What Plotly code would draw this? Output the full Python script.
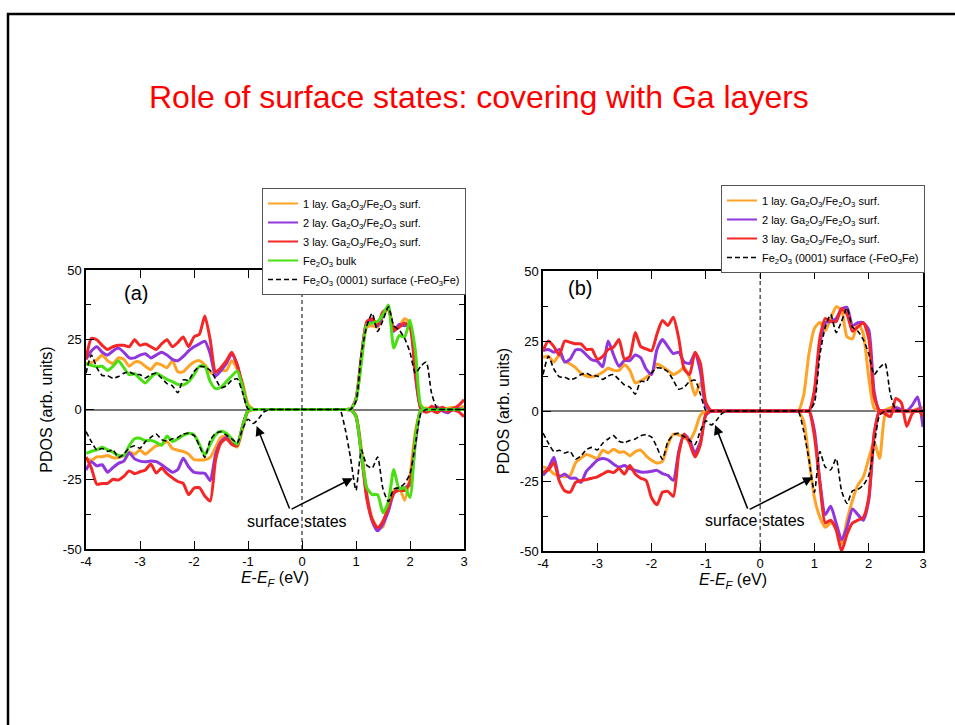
import plotly.graph_objects as go

# Energy grid (eV relative to E_F), 0.1 eV spacing from -4 to 3
E = [round(-4 + 0.1 * i, 1) for i in range(71)]

# ---------------- Panel (a) ----------------
A_ORANGE_UP = [16.5, 16.8, 17.7, 19.5, 17.5, 16.5, 18.5, 18.0, 15.5, 17.0, 17.0, 15.5, 14.3, 16.5, 16.0, 15.0,
               17.5, 13.5, 13.5, 15.5, 17.0, 17.5, 16.0, 13.5, 12.5, 14.0, 14.0, 17.5, 14.5, 9.5, 2.0,
               0, 0, 0, 0, 0, 0, 0, 0, 0, 0, 0, 0, 0, 0, 0, 0, 0, 0, 0,
               3.5, 18.0, 29.5, 30.0, 29.5, 33.5, 36.0, 29.0, 30.0, 32.5, 31.0, 16.0, 0.5, 0.5, 0.3, 1.0, 0.2,
               0.5, 0.8, 0.3, 1.2]
A_ORANGE_DN = [-17.5, -18.2, -17.0, -16.9, -16.5, -17.3, -17.2, -16.5, -15.2, -16.0, -14.5, -16.0, -14.5, -13.0,
               -12.5, -11.5, -14.0, -14.6, -15.0, -16.0, -18.0, -18.1, -18.0, -17.2, -13.5, -10.0, -9.5, -12.0,
               -13.5, -7.0, -0.8,
               0, 0, 0, 0, 0, 0, 0, 0, 0, 0, 0, 0, 0, 0, 0, 0, 0, 0, 0,
               -2.0, -14.0, -30.0, -39.0, -42.5, -42.0, -34.0, -29.0, -28.0, -32.5, -24.0, -8.0, -0.5,
               0, 0, 0, 0, 0, 0, 0, 0]
A_PURPLE_UP = [18.0, 21.0, 22.5, 20.5, 19.5, 21.0, 22.0, 20.5, 18.5, 18.5, 19.5, 20.0, 18.5, 19.5, 20.5, 19.5,
               18.0, 17.5, 19.0, 21.0, 22.5, 23.5, 24.5, 20.0, 12.0, 14.0, 16.5, 20.0, 16.0, 8.0, 0.6,
               0, 0, 0, 0, 0, 0, 0, 0, 0, 0, 0, 0, 0, 0, 0, 0, 0, 0, 0,
               3.5, 18.5, 31.0, 32.0, 30.0, 34.0, 36.5, 28.0, 30.5, 30.0, 30.5, 12.0, 0.5, -0.3, 0.5, 0.8,
               -0.5, -1.2, 0.2, 0.3, 0]
A_PURPLE_DN = [-21.7, -18.7, -20.2, -19.8, -22.5, -20.8, -19.3, -18.5, -15.5, -17.7, -18.5, -18.7, -18.5, -18.7,
               -19.8, -21.2, -22.5, -21.5, -17.5, -20.5, -22.5, -22.8, -22.9, -25.5, -16.0, -11.5, -10.0, -12.5,
               -12.5, -6.0, -0.4,
               0, 0, 0, 0, 0, 0, 0, 0, 0, 0, 0, 0, 0, 0, 0, 0, 0, 0, 0,
               -2.5, -16.0, -31.0, -40.0, -43.5, -41.0, -36.5, -30.0, -28.5, -28.0, -27.0, -12.0, -0.5,
               0, 0, 0, 0, 0, 0, 0, 0]
A_RED_UP = [18.0, 25.5, 25.0, 23.0, 21.5, 22.5, 23.0, 23.0, 22.5, 25.0, 23.0, 23.5, 22.5, 21.5, 23.5, 25.0,
            22.5, 24.0, 26.0, 22.5, 26.0, 27.0, 33.5, 25.0, 13.5, 15.0, 17.5, 20.5, 16.0, 8.5, 0.6,
            0, 0, 0, 0, 0, 0, 0, 0, 0, 0, 0, 0, 0, 0, 0, 0, 0, 0, 0,
            4.0, 19.0, 31.5, 32.5, 30.5, 35.0, 36.0, 28.5, 29.5, 31.0, 29.5, 13.0, 0.5, -0.8, 1.2, -0.2,
            0.8, -0.3, 0.3, 1.5, 3.5]
A_RED_DN = [-17.0, -21.0, -26.8, -26.5, -26.5, -25.0, -25.3, -24.0, -22.0, -23.0, -22.3, -21.7, -19.5, -22.8,
            -21.0, -23.0, -24.5, -25.8, -26.5, -30.5, -28.2, -28.0, -31.0, -32.8, -18.0, -12.0, -10.5, -12.5,
            -13.0, -6.0, -0.4,
            0, 0, 0, 0, 0, 0, 0, 0, 0, 0, 0, 0, 0, 0, 0, 0, 0, 0, 0,
            -2.5, -16.0, -32.0, -39.5, -42.4, -40.0, -35.0, -30.0, -29.0, -29.0, -26.0, -10.0, -0.3, -1.0,
            -0.3, -1.2, 0, -0.6, -0.2, -0.8, -2.6]
A_GREEN_UP = [16.5, 15.8, 15.3, 15.5, 14.0, 15.5, 17.5, 15.0, 12.5, 12.8, 11.0, 9.5, 11.5, 13.0, 12.0, 10.8,
              10.0, 9.0, 8.8, 10.0, 12.5, 15.5, 15.5, 10.0, 7.5, 8.0, 10.0, 12.0, 13.8, 8.0, 1.0,
              0, 0, 0, 0, 0, 0, 0, 0, 0, 0, 0, 0, 0, 0, 0, 0, 0, 0, 0,
              3.5, 17.0, 30.5, 31.0, 31.5, 34.0, 37.5, 22.0, 26.5, 26.0, 32.0, 21.0, 1.5,
              0, 0, 0, 0, 0, 0, 0, 0]
A_GREEN_DN = [-15.7, -15.0, -14.5, -13.5, -14.5, -15.3, -16.5, -16.5, -13.0, -10.5, -10.3, -11.2, -11.0, -11.8,
              -12.8, -9.5, -11.5, -10.5, -9.3, -8.5, -9.0, -12.5, -16.3, -12.5, -9.0, -7.8, -8.5, -10.5, -12.5,
              -6.0, -0.4,
              0, 0, 0, 0, 0, 0, 0, 0, 0, 0, 0, 0, 0, 0, 0, 0, 0, 0, 0,
              -2.5, -16.0, -28.0, -30.5, -30.5, -37.0, -33.0, -21.5, -28.5, -28.0, -31.5, -10.0, -0.3,
              0, 0, 0, 0, 0, 0, 0, 0]
# bare Fe2O3 (0001) surface, shared by both panels
SURF_UP = [13.0, 19.5, 15.0, 12.2, 12.1, 11.2, 11.8, 13.0, 13.5, 12.6, 12.5, 11.3, 12.5, 13.0, 11.2, 9.3,
           8.5, 6.0, 10.6, 10.5, 13.6, 15.4, 15.2, 14.0, 11.0, 7.8, 8.5, 10.5, 11.0, 6.0, 0.2,
           0, 0, 0, 0, 0, 0, 0, 0, 0, 0, 0, 0, 0, 0, 0, 0, 0, 0, 0,
           3.0, 20.0, 30.0, 34.5, 28.0, 32.0, 36.8, 30.0, 28.5, 25.5, 20.5, 13.0, 15.5, 17.0, 5.8, 0.5,
           0, 0, 0, 0, 0]
SURF_DN = [-7.9, -11.5, -14.5, -14.0, -15.0, -14.5, -17.2, -16.0, -13.8, -13.0, -13.9, -11.5, -10.0, -8.8,
           -10.8, -11.3, -10.5, -10.0, -8.8, -8.5, -9.3, -13.0, -17.2, -11.0, -8.5, -8.0, -9.2, -10.5, -12.0,
           -7.0, -3.5,
           -5.0, -3.2, -0.8, 0, 0, 0, 0, 0, 0, 0, 0, 0, 0, 0, 0, 0, 0, -7.0, -17.5,
           -29.0, -14.5, -20.0, -21.0, -17.0, -28.5, -33.0, -28.5, -28.0, -26.5, -23.0, -12.5, -1.5,
           0, 0, 0, 0, 0, 0, 0, 0]

# ---------------- Panel (b) ----------------
B_ORANGE_UP = [19.2, 19.5, 17.5, 20.0, 17.8, 16.8, 15.5, 13.5, 12.5, 12.2, 12.8, 13.8, 15.3, 14.5, 14.5, 16.5,
               14.5, 10.0, 10.8, 12.0, 13.5, 16.8, 15.8, 14.5, 13.0, 14.0, 15.5, 12.0, 5.6, 10.0, 2.5,
               0.2, 0, 0, 0, 0, 0, 0, 0, 0, 0, 0, 0, 0, 0, 0, 0, 0, 5.5, 20.5,
               29.5, 31.7, 28.7, 33.0, 37.2, 36.0, 26.5, 25.8, 31.5, 27.5, 12.0, 1.0, 0, 0.3, 1.2, 1.4,
               0.2, -0.3, 0, 0.8, 1.4]
B_ORANGE_DN = [-20.0, -20.6, -22.5, -23.0, -23.5, -23.0, -18.5, -16.8, -15.5, -16.2, -17.0, -14.0, -15.0, -13.7,
               -14.7, -14.6, -16.0, -14.5, -14.0, -16.0, -17.6, -18.6, -18.0, -12.0, -8.3, -8.5, -9.5, -10.5,
               -7.0, -1.5, 0,
               0, 0, 0, 0, 0, 0, 0, 0, 0, 0, 0, 0, 0, 0, 0, 0, 0, -3.5, -17.0,
               -31.0, -37.9, -41.5, -40.0, -41.0, -47.5, -39.0, -32.0, -26.5, -23.6, -17.0, -11.0, -17.0, -1.5,
               0, 0, 0, 0, 0, 0, 0]
B_PURPLE_UP = [21.6, 22.0, 21.0, 22.0, 17.5, 18.5, 21.8, 21.8, 20.0, 18.3, 17.8, 15.8, 25.0, 20.0, 16.0, 18.0,
               18.0, 20.0, 19.0, 15.0, 13.0, 22.0, 25.5, 23.0, 20.5, 21.0, 17.5, 17.0, 20.5, 14.0, 1.8,
               0, 0, 0, 0, 0, 0, 0, 0, 0, 0, 0, 0, 0, 0, 0, 0, 0, 0, 0,
               6.5, 24.0, 31.5, 32.0, 33.0, 36.5, 37.0, 30.5, 31.5, 31.5, 29.0, 7.0, 0, 0, 0, 1.2, 0.5, 0,
               2.0, 5.0, -5.7]
B_PURPLE_DN = [-23.0, -20.5, -16.5, -23.5, -22.5, -24.0, -24.0, -25.5, -21.5, -19.5, -17.6, -17.0, -17.5, -19.0,
               -20.0, -19.5, -20.6, -21.2, -21.8, -21.8, -21.5, -21.2, -22.4, -23.0, -24.8, -14.5, -8.5, -10.5,
               -15.0, -11.0, -1.5,
               0, 0, 0, 0, 0, 0, 0, 0, 0, 0, 0, 0, 0, 0, 0, 0, 0, 0, 0,
               -7.0, -25.0, -37.0, -34.0, -40.0, -46.0, -41.5, -35.0, -37.0, -39.0, -32.0, -9.0, 0,
               0, 0, 0, 0, 0, 0, 0, 0]
B_RED_UP = [21.6, 25.0, 23.0, 20.0, 25.0, 24.5, 24.0, 24.0, 22.0, 22.0, 18.5, 19.5, 22.0, 22.8, 25.5, 18.5,
            19.5, 28.0, 23.0, 22.2, 21.5, 27.5, 32.3, 30.5, 33.5, 26.0, 15.0, 13.0, 21.0, 17.0, 3.0,
            0, 0, 0, 0, 0, 0, 0, 0, 0, 0, 0, 0, 0, 0, 0, 0, 0, 0, 0,
            7.5, 26.0, 33.0, 32.0, 32.0, 36.5, 34.6, 28.5, 30.0, 31.5, 26.0, 5.0, 0, -1.0, -2.0, 4.5, 3.0,
            -5.5, -1.0, 0.5, -2.0]
B_RED_DN = [-21.8, -21.0, -18.5, -25.0, -28.5, -29.0, -25.5, -24.8, -24.5, -24.0, -23.5, -22.5, -21.5, -22.0,
            -20.5, -22.5, -19.5, -22.5, -24.0, -24.8, -31.0, -33.5, -29.0, -28.7, -30.5, -15.5, -8.2, -11.5,
            -16.4, -12.0, -1.0,
            0, 0, 0, 0, 0, 0, 0, 0, 0, 0, 0, 0, 0, 0, 0, 0, 0, 0, 0,
            -9.0, -26.0, -40.0, -39.0, -42.5, -50.0, -44.0, -40.0, -39.0, -38.0, -31.0, -8.0, 0,
            0, 0, 0, 0, 0, 0, 0, 0]

# Axis ticks (plain hyphen minus signs)
X_TICKS = [-4, -3, -2, -1, 0, 1, 2, 3]
X_TICK_TEXT = ["-4", "-3", "-2", "-1", "0", "1", "2", "3"]
Y_TICKS = [-50, -25, 0, 25, 50]
Y_TICK_TEXT = ["-50", "-25", "0", "25", "50"]

LBL_1 = "1 lay. Ga<sub>2</sub>O<sub>3</sub>/Fe<sub>2</sub>O<sub>3</sub> surf."
LBL_2 = "2 lay. Ga<sub>2</sub>O<sub>3</sub>/Fe<sub>2</sub>O<sub>3</sub> surf."
LBL_3 = "3 lay. Ga<sub>2</sub>O<sub>3</sub>/Fe<sub>2</sub>O<sub>3</sub> surf."
LBL_BULK = "Fe<sub>2</sub>O<sub>3</sub> bulk"
LBL_SURF = "Fe<sub>2</sub>O<sub>3</sub> (0001) surface (-FeO<sub>3</sub>Fe)"

ORANGE = "#FFA326"
PURPLE = "#9036DE"
RED = "#F52626"
GREEN = "#48E012"
BLACK = "#000000"

FONT = "Liberation Sans, Arial, Helvetica, sans-serif"
DASH = "5px,3px"

fig = go.Figure()


def add_dos(up, dn, color, xa, ya, width=3, dash="solid"):
    """Spin-up (positive) and spin-down (negative) PDOS as one broken line."""
    fig.add_trace(go.Scatter(
        x=E + [None] + E, y=up + [None] + dn,
        mode="lines", connectgaps=False, showlegend=False, hoverinfo="skip",
        line=dict(color=color, width=width, dash=dash, shape="spline", smoothing=0.6),
        xaxis=xa, yaxis=ya,
    ))


def add_key(name, color, xa, ya, legend, width=2, dash="solid"):
    """Legend entry drawn with a thinner stroke than the data curves."""
    fig.add_trace(go.Scatter(
        x=[None], y=[None], mode="lines", name=name,
        line=dict(color=color, width=width, dash=dash),
        xaxis=xa, yaxis=ya, legend=legend, showlegend=True,
    ))


add_dos(A_ORANGE_UP, A_ORANGE_DN, ORANGE, "x", "y")
add_dos(A_PURPLE_UP, A_PURPLE_DN, PURPLE, "x", "y")
add_dos(A_RED_UP, A_RED_DN, RED, "x", "y")
add_dos(A_GREEN_UP, A_GREEN_DN, GREEN, "x", "y")
add_dos(SURF_UP, SURF_DN, BLACK, "x", "y", width=1.6, dash=DASH)

add_dos(B_ORANGE_UP, B_ORANGE_DN, ORANGE, "x2", "y2")
add_dos(B_PURPLE_UP, B_PURPLE_DN, PURPLE, "x2", "y2")
add_dos(B_RED_UP, B_RED_DN, RED, "x2", "y2")
add_dos(SURF_UP, SURF_DN, BLACK, "x2", "y2", width=1.6, dash=DASH)

add_key(LBL_1, ORANGE, "x", "y", "legend")
add_key(LBL_2, PURPLE, "x", "y", "legend")
add_key(LBL_3, RED, "x", "y", "legend")
add_key(LBL_BULK, GREEN, "x", "y", "legend")
add_key(LBL_SURF, BLACK, "x", "y", "legend", width=1.6, dash=DASH)

add_key(LBL_1, ORANGE, "x2", "y2", "legend2")
add_key(LBL_2, PURPLE, "x2", "y2", "legend2")
add_key(LBL_3, RED, "x2", "y2", "legend2")
add_key(LBL_SURF, BLACK, "x2", "y2", "legend2", width=1.6, dash=DASH)

W, H = 955, 725

xtitle = "<i>E</i>-<i>E</i><sub><i>F</i></sub> (eV)"


def xaxis_cfg(domain, anchor):
    return dict(
        domain=domain, anchor=anchor, range=[-4, 3],
        tickvals=X_TICKS, ticktext=X_TICK_TEXT,
        showline=True, linecolor="black", linewidth=1.5, mirror="allticks",
        ticks="inside", ticklen=8, tickwidth=1.2, tickcolor="black",
        showgrid=False, zeroline=False, automargin=False,
        tickfont=dict(family=FONT, size=13, color="black"),
        title=dict(text=xtitle, font=dict(family=FONT, size=16, color="black"), standoff=2),
    )


def yaxis_cfg(domain, anchor):
    return dict(
        domain=domain, anchor=anchor, range=[-50, 50],
        tickvals=Y_TICKS, ticktext=Y_TICK_TEXT,
        showline=True, linecolor="black", linewidth=1.5, mirror="allticks",
        ticks="inside", ticklen=8, tickwidth=1.2, tickcolor="black",
        minor=dict(dtick=12.5, tick0=0, ticks="inside", ticklen=5, tickwidth=1.2, tickcolor="black"),
        showgrid=False, zeroline=True, zerolinecolor="#7a7a7a", zerolinewidth=1.5, automargin=False,
        tickfont=dict(family=FONT, size=13, color="black"),
        title=dict(text="PDOS (arb. units)", font=dict(family=FONT, size=16, color="black"), standoff=6),
    )


legend_common = dict(
    xref="paper", yref="paper", xanchor="left", yanchor="top",
    bgcolor="white", bordercolor="#555555", borderwidth=1,
    font=dict(family=FONT, size=11, color="black"),
    itemwidth=30, tracegroupgap=0,
)

fig.update_layout(
    width=W, height=H, autosize=False,
    margin=dict(l=0, r=0, t=0, b=0),
    paper_bgcolor="white", plot_bgcolor="white",
    font=dict(family=FONT, color="black"),
    xaxis=xaxis_cfg([86 / W, 464 / W], "y"),
    yaxis=yaxis_cfg([(H - 549) / H, (H - 270) / H], "x"),
    xaxis2=xaxis_cfg([543 / W, 923 / W], "y2"),
    yaxis2=yaxis_cfg([(H - 551) / H, (H - 271) / H], "x2"),
    legend=dict(x=262 / W, y=(H - 188) / H, **legend_common),
    legend2=dict(x=721 / W, y=(H - 185) / H, **legend_common),
    showlegend=True,
)

# Fermi level markers
for xr, yr in (("x", "y"), ("x2", "y2")):
    fig.add_shape(type="line", xref=xr, yref=yr, x0=0, x1=0, y0=-50, y1=50,
                  line=dict(color="black", width=1, dash="4px,3px"), layer="above")

# slide frame
fig.add_shape(type="rect", xref="paper", yref="paper",
              x0=8 / W, y0=-0.02, x1=1.02, y1=1 - 14 / H,
              line=dict(color="black", width=2.5), fillcolor="rgba(0,0,0,0)")

ann = [
    dict(text="Role of surface states: covering with Ga layers", xref="paper", yref="paper",
         x=479 / W, y=1 - 97 / H, showarrow=False, xanchor="center", yanchor="middle",
         font=dict(family=FONT, size=32, color="#FF0000")),
    dict(text="(a)", xref="x", yref="y", x=-3.07, y=41.8, showarrow=False,
         font=dict(family=FONT, size=20, color="black")),
    dict(text="(b)", xref="x2", yref="y2", x=-3.31, y=43.8, showarrow=False,
         font=dict(family=FONT, size=20, color="black")),
    dict(text="surface states", xref="x", yref="y", x=-0.1, y=-40.2, showarrow=False,
         font=dict(family=FONT, size=16, color="black")),
    dict(text="surface states", xref="x2", yref="y2", x=-0.09, y=-39.2, showarrow=False,
         font=dict(family=FONT, size=16, color="black")),
]

arrows = [
    ("x", "y", -0.22, -36.0, -0.84, -5.9),
    ("x", "y", -0.22, -36.0, 0.94, -24.6),
    ("x2", "y2", -0.22, -35.4, -0.83, -5.0),
    ("x2", "y2", -0.22, -35.4, 0.97, -23.7),
]
for xr, yr, tx, ty, hx, hy in arrows:
    ann.append(dict(text="", xref=xr, yref=yr, x=hx, y=hy, axref=xr, ayref=yr, ax=tx, ay=ty,
                    showarrow=True, arrowhead=2, arrowsize=1.3, arrowwidth=1.5,
                    arrowcolor="black", standoff=0, startstandoff=0))

fig.update_layout(annotations=ann)

fig.write_html(
    "out.html",
    post_script="document.body.style.margin='0';document.body.style.padding='0';"
                "document.documentElement.style.overflow='hidden';",
)
